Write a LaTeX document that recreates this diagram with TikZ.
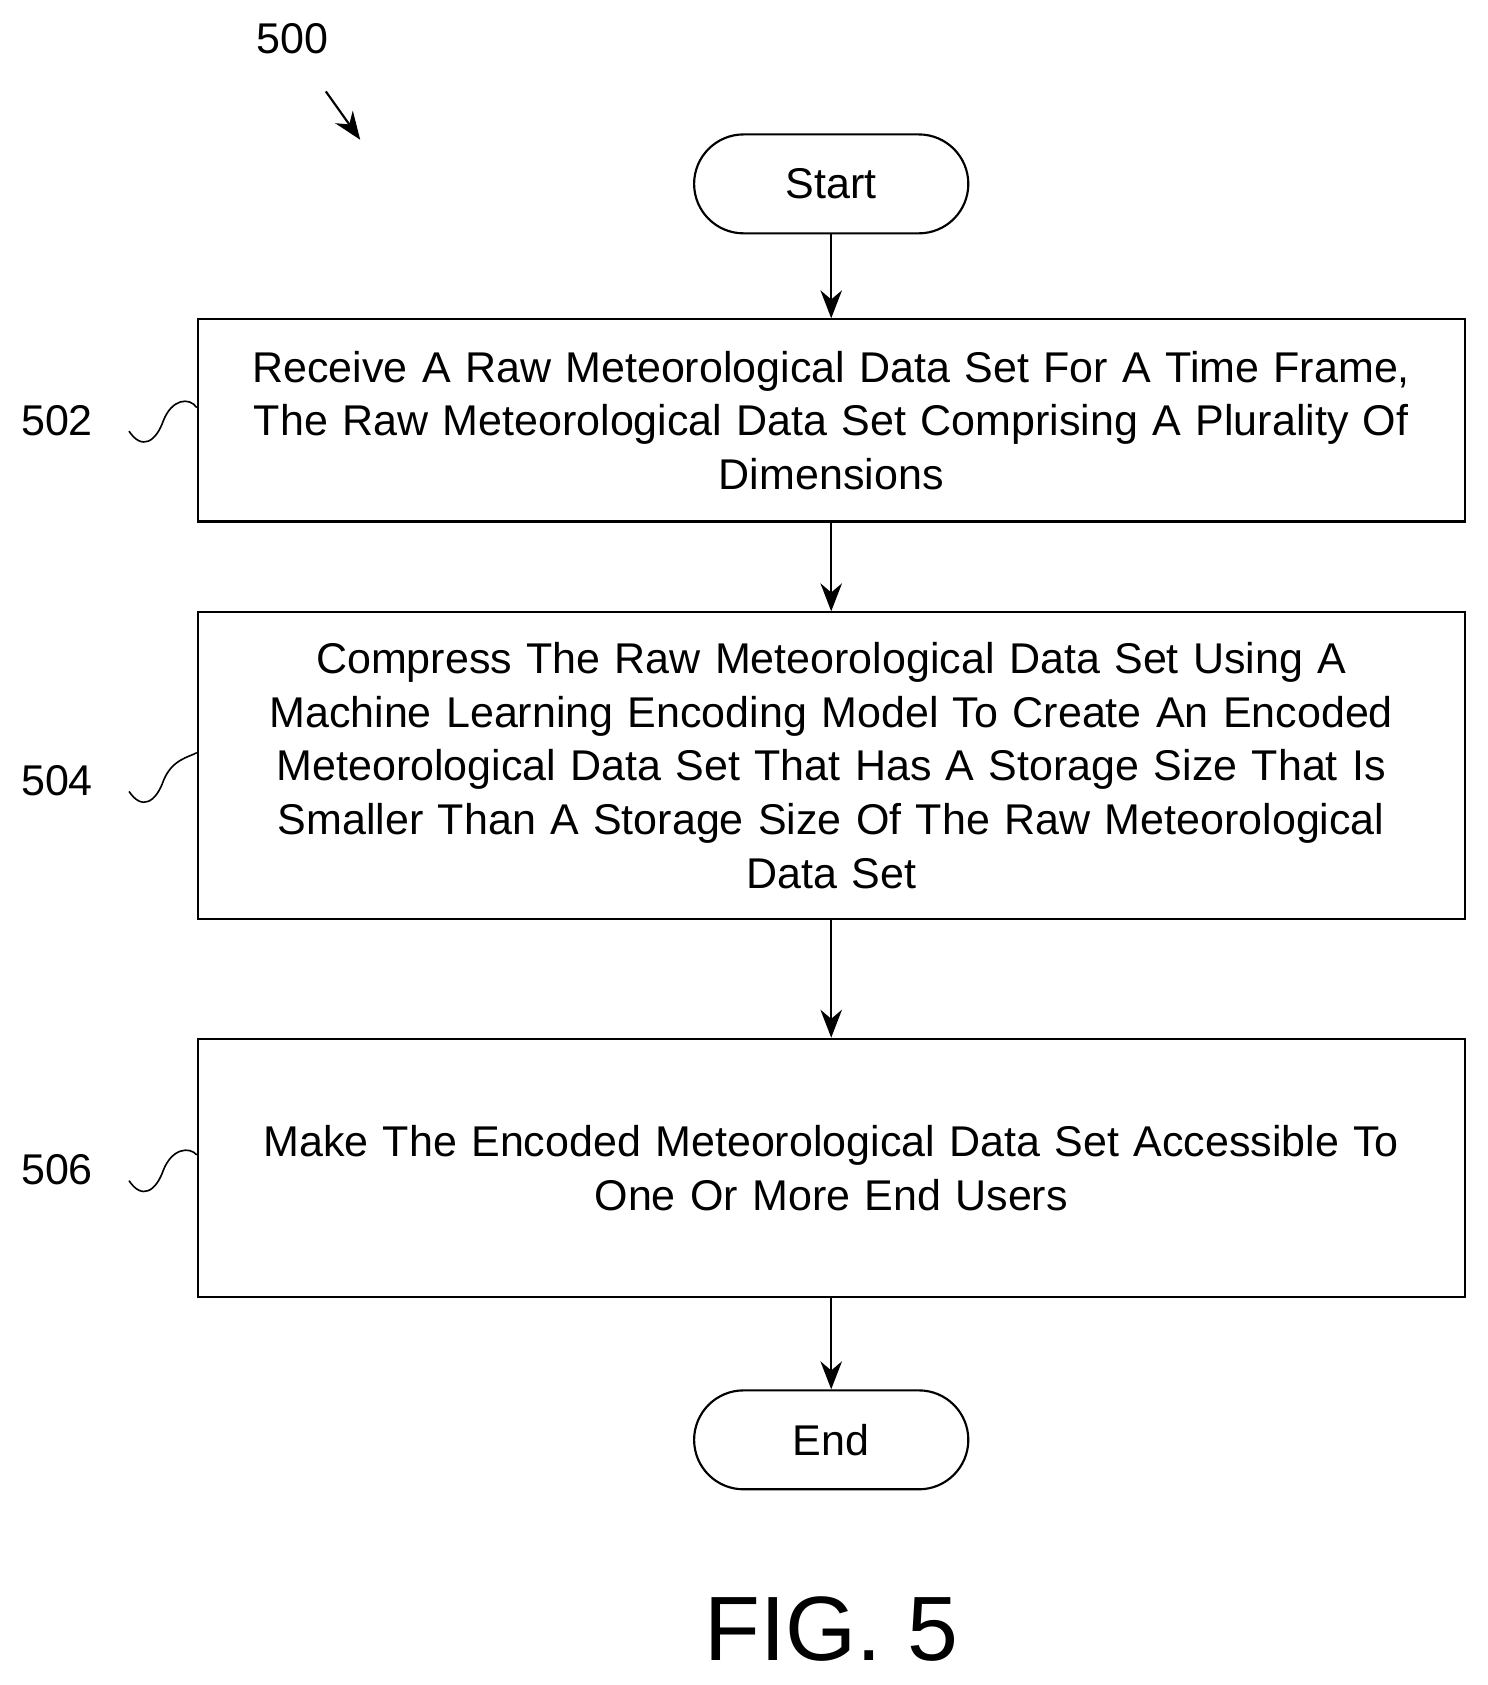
\documentclass[tikz,border=0pt]{standalone}
\usepackage{fontspec}
\setmainfont{Liberation Sans}
\usetikzlibrary{arrows.meta,positioning}

\begin{document}
\begin{tikzpicture}[x=1pt,y=-1pt,line width=2pt,
	every node/.style={font=\fontsize{40}{50}\selectfont},
	term/.style={draw,rounded corners=46pt,minimum width=255pt,minimum height=92pt},
	proc/.style={draw,minimum width=1178pt,text width=1170pt,align=center},
	flow/.style={-{Stealth[length=26pt,width=20pt]}}]
	\useasboundingbox (0,0) rectangle (1383,1567);
	\node (title) at (272,36) {500};
	\coordinate (tp1) at (303,85);
	\coordinate (tp2) at (335,130);
	\draw[flow] (tp1) -- (tp2);
	\node[term] (start) at (773,171) {Start};
	\node[proc,minimum height=188pt] (s502) at (773,391) {Receive A Raw Meteorological Data Set For A Time Frame,\\ The Raw Meteorological Data Set Comprising A Plurality Of\\ Dimensions};
	\node[proc,minimum height=285pt] (s504) at (773,712) {Compress The Raw Meteorological Data Set Using A\\ Machine Learning Encoding Model To Create An Encoded\\ Meteorological Data Set That Has A Storage Size That Is\\ Smaller Than A Storage Size Of The Raw Meteorological\\ Data Set};
	\node[proc,minimum height=240pt] (s506) at (773,1086) {Make The Encoded Meteorological Data Set Accessible To\\ One Or More End Users};
	\node[term] (end) at (773,1339) {End};
	\node[font=\fontsize{85}{100}\selectfont] (fig) at (773,1515) {FIG. 5};
	\draw[flow] (start) -- (s502);
	\draw[flow] (s502) -- (s504);
	\draw[flow] (s504) -- (s506);
	\draw[flow] (s506) -- (end);
	% reference numerals
	\foreach \n/\y in {502/391,504/726,506/1088}{
		\node (l\n) at (53,\y) {\n};
		\coordinate (w\n) at (120,\y+10);
		\draw[line width=1.5pt] (w\n) .. controls (132,\y+28) and (145,\y+20) .. (152,\y)
			.. controls (160,\y-20) and (176,\y-22) .. ([yshift=12pt]s\n.west);
	}
\end{tikzpicture}
\end{document}
